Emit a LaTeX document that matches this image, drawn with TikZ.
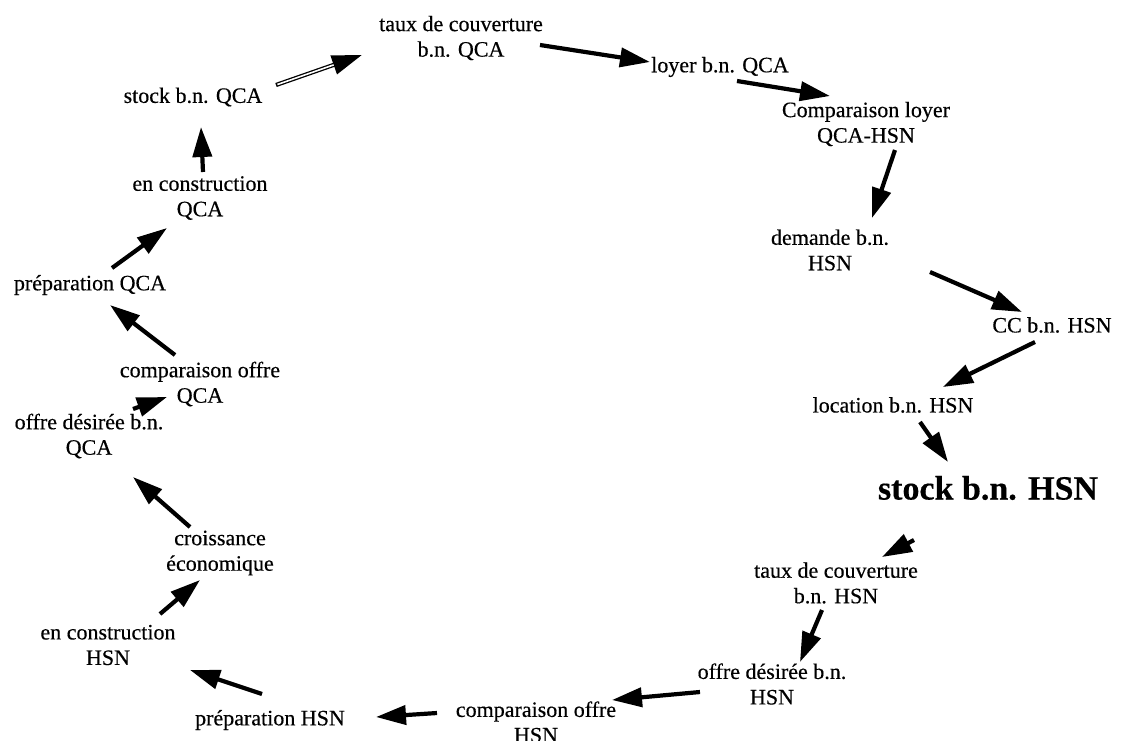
\documentclass[tikz,border=0pt]{standalone}
\usepackage{fontspec}
\setmainfont{Liberation Serif}[FakeBold=0.4]
\usetikzlibrary{arrows.meta,calc}
\tikzset{
  lbl/.style={align=center,inner sep=0pt,font=\fontsize{22}{25.5}\selectfont},
  lblbig/.style={align=center,inner sep=0pt,font=\fontsize{34}{36}\selectfont\bfseries},
  arr/.style={line width=4.2pt,-{Triangle[length=30pt,width=19pt]}},
}
\begin{document}
\begin{tikzpicture}[x=1pt,y=-1pt]
\useasboundingbox (0,0) rectangle (1122,740);
% QCA side, top
\node[lbl] (tq) at (461,38) {taux de couverture\\b.n. QCA};
\node[lbl] (sq) at (193,97) {stock b.n. QCA};
\node[lbl] (lq) at (720,67) {loyer b.n. QCA};
\node[lbl] (cl) at (866,124) {Comparaison loyer\\QCA-HSN};
% HSN side, right
\node[lbl] (dh) at (830,250) {demande b.n.\\HSN};
\node[lbl] (cc) at (1052,325) {CC b.n. HSN};
\node[lbl] (lh) at (893,405) {location b.n. HSN};
\node[lblbig] (sh) at (988,488) {stock b.n. HSN};
\node[lbl] (th) at (836,583) {taux de couverture\\b.n. HSN};
\node[lbl] (oh) at (772,684) {offre désirée b.n.\\HSN};
\node[lbl] (ch) at (536,722) {comparaison offre\\HSN};
\node[lbl] (ph) at (270,720) {préparation HSN};
% left side
\node[lbl] (eh) at (108,645) {en construction\\HSN};
\node[lbl] (ce) at (220,553) {croissance\\économique};
\node[lbl] (oq) at (89,436) {offre désirée b.n.\\QCA};
\node[lbl] (cq) at (200,384) {comparaison offre\\QCA};
\node[lbl] (pq) at (90,285) {préparation QCA};
\node[lbl] (eq) at (200,198) {en construction\\QCA};

% hollow-shaft arrow
\draw[arr] ($(sq)+(83,-12)$) -- ($(tq)+(-99,17)$);
\draw[white,line width=1.6pt,shorten >=30pt,shorten <=1.5pt] ($(sq)+(83,-12)$) -- ($(tq)+(-99,17)$);

\draw[arr] ($(tq)+(79,7)$) -- ($(lq)+(-70,-5)$);
\draw[arr] ($(lq)+(17,14)$) -- ($(cl)+(-36,-28)$);
\draw[arr] ($(cl)+(29,26)$) -- ($(dh)+(42,-32)$);
\draw[arr] ($(dh)+(100,22)$) -- ($(cc)+(-30,-13)$);
\draw[arr] ($(cc)+(-17,17)$) -- ($(lh)+(50,-18)$);
\draw[arr] ($(lh)+(27,17)$) -- ($(sh)+(-40,-26)$);
\draw[arr] ($(sh)+(-74,52)$) -- ($(th)+(46,-26)$);
\draw[arr] ($(th)+(-14,27)$) -- ($(oh)+(28,-22)$);
\draw[arr] ($(oh)+(-72,8)$) -- ($(ch)+(76,-22)$);
\draw[arr] ($(ch)+(-99,-9)$) -- ($(ph)+(106,-3)$);
\draw[arr] ($(ph)+(-8,-26)$) -- ($(eh)+(82,25)$);
\draw[arr] ($(eh)+(52,-31)$) -- ($(ce)+(-20,27)$);
\draw[arr] ($(ce)+(-30,-26)$) -- ($(oq)+(44,41)$);
\draw[arr] ($(oq)+(44,-27)$) -- ($(cq)+(-33,13)$);
\draw[arr] ($(cq)+(-25,-29)$) -- ($(pq)+(20,20)$);
\draw[arr] ($(pq)+(22,-17)$) -- ($(eq)+(-33,30)$);
\draw[arr] ($(eq)+(3,-26)$) -- ($(sq)+(8,30)$);
\end{tikzpicture}
\end{document}
